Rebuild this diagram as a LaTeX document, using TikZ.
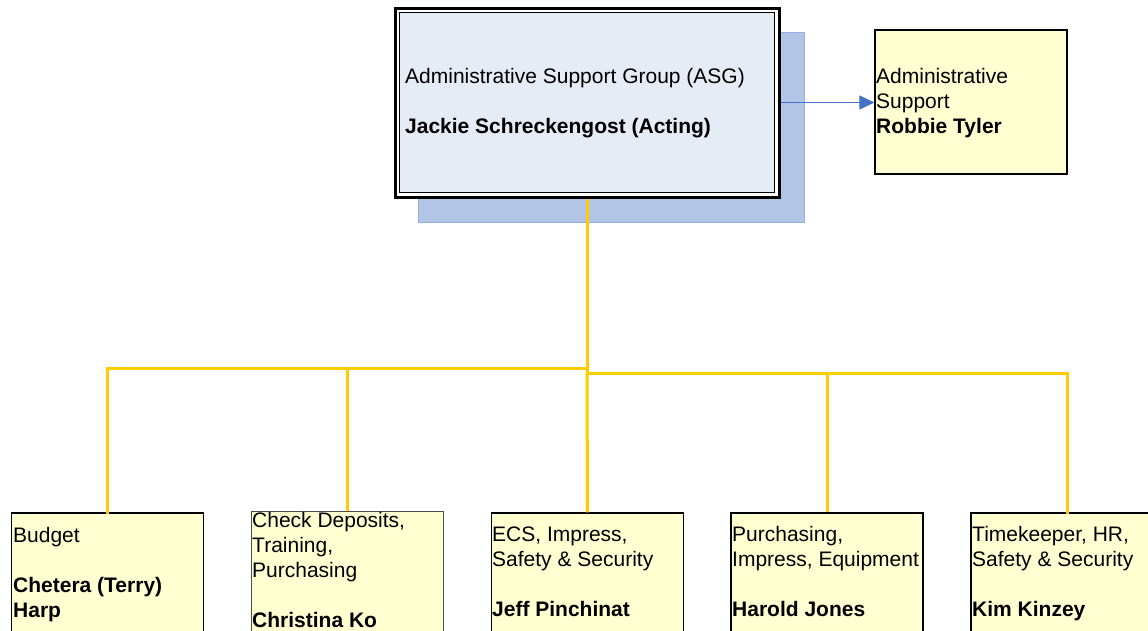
\documentclass[tikz,border=0pt]{standalone}
\usepackage{fontspec}
\setmainfont{Liberation Sans}
\usetikzlibrary{arrows.meta}
\definecolor{asgfill}{RGB}{230,236,246}
\definecolor{shadowfill}{RGB}{178,197,231}
\definecolor{shadowline}{RGB}{150,175,220}
\definecolor{boxfill}{RGB}{255,255,210}
\definecolor{linkyellow}{RGB}{255,204,0}
\definecolor{linkblue}{RGB}{68,114,196}
\newcommand\tp{\rule{0pt}{16pt}}
\tikzset{
  txt/.style={inner sep=0pt, align=left, anchor=north west, font=\fontsize{21}{25}\selectfont},
  unitbox/.style={draw=black, line width=1.5pt, fill=boxfill, minimum width=192pt, minimum height=150pt, inner sep=0pt},
  yline/.style={draw=linkyellow, line width=3pt},
  bline/.style={draw=linkblue, line width=1pt, -{Triangle[length=15pt,width=14pt]}}
}
\begin{document}
\begin{tikzpicture}[x=1pt,y=-1pt]
\useasboundingbox (0,0) rectangle (1148,630);
\clip (0,0) rectangle (1148,630);
\fill[white] (0,0) rectangle (1148,630);
% shadow of main box
\filldraw[fill=shadowfill, draw=shadowline, line width=0.8pt] (418,32) rectangle (804,222);
% main box (double frame)
\node[draw=black, line width=3pt, fill=white, minimum width=384pt, minimum height=189pt, inner sep=0pt] (asg) at (587,102.5) {};
\node[draw=black, line width=1pt, fill=asgfill, minimum width=375pt, minimum height=180pt, inner sep=0pt] (asgin) at (587,102.5) {};
\node[txt] (asgtxt) at (405,67) {\tp Administrative Support Group (ASG)\\[25pt]\textbf{Jackie Schreckengost (Acting)}};
% right box
\node[draw=black, line width=1.2pt, fill=boxfill, minimum width=192pt, minimum height=144pt, inner sep=0pt] (sup) at (971,102) {};
\node[txt] (suptxt) at (876,67) {\tp Administrative\\Support\\\textbf{Robbie Tyler}};
\draw[bline] (asg.east) -- (asg.east -| sup.west);
% bottom boxes
\node[unitbox] (b1) at (107.5,588) {};
\node[unitbox, draw=black!70, line width=1pt] (b2) at (347,586) {};
\node[unitbox] (b3) at (587.5,588) {};
\node[unitbox] (b4) at (827,588) {};
\node[unitbox] (b5) at (1067,588) {};
\node[txt] (t1) at (13,526) {\tp Budget\\[25pt]\textbf{Chetera (Terry)}\\\textbf{Harp}};
\node[txt] (t2) at (252,511) {\tp Check Deposits,\\Training,\\Purchasing\\[25pt]\textbf{Christina Ko}};
\node[txt] (t3) at (492,525) {\tp ECS, Impress,\\Safety \& Security\\[25pt]\textbf{Jeff Pinchinat}};
\node[txt] (t4) at (732,525) {\tp Purchasing,\\Impress, Equipment\\[25pt]\textbf{Harold Jones}};
\node[txt] (t5) at (972,525) {\tp Timekeeper, HR,\\Safety \& Security\\[25pt]\textbf{Kim Kinzey}};
% yellow connectors
\coordinate (jl) at (587,368);
\coordinate (jr) at (587,373);
\draw[yline] (asg.south) -- (jr);
\draw[yline, line cap=rect] (jl) -- (b1.north |- jl) -- (b1.north);
\draw[yline] (b2.north |- jl) -- (b2.north);
\draw[yline, line cap=rect] (jr) -- (b5.north |- jr) -- (b5.north);
\draw[yline] (jr) -- (b3.north);
\draw[yline] (b4.north |- jr) -- (b4.north);
\end{tikzpicture}
\end{document}
